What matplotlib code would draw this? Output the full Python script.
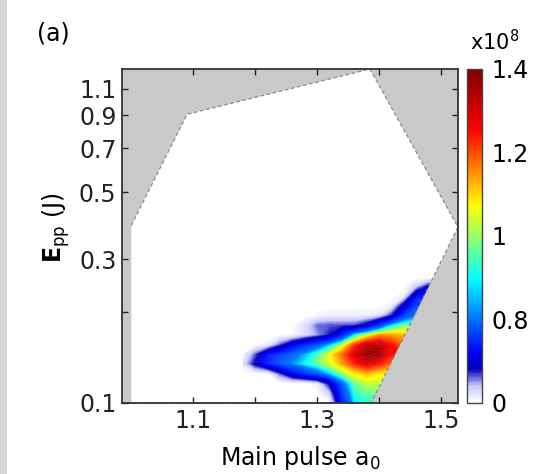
import numpy as np
import matplotlib
matplotlib.use("Agg")
import matplotlib.pyplot as plt
from matplotlib.colors import LinearSegmentedColormap, FuncNorm
from matplotlib.cm import ScalarMappable
from matplotlib.patches import Polygon, Rectangle
from matplotlib.ticker import FixedLocator, FixedFormatter, NullLocator

plt.rcParams['font.family'] = ['DejaVu Sans']

# ---------------- data ----------------
# allowed-region boundary (main pulse a0, E_pp in J)
boundary_a0 = [1.0, 1.0, 1.09, 1.385, 1.527, 1.387]
boundary_epp = [0.1, 0.388, 0.906, 1.28, 0.383, 0.1]

# grid nodes of the yield map
a0_grid = [1.18, 1.20, 1.22, 1.24, 1.26, 1.28, 1.30, 1.32, 1.34,
           1.36, 1.38, 1.40, 1.42, 1.44, 1.46, 1.48, 1.50]
epp_grid = [0.100, 0.108, 0.116, 0.125, 0.135, 0.145, 0.156,
            0.168, 0.181, 0.195, 0.210, 0.226, 0.243, 0.260]

# yield (x10^8), one row per E_pp value (bottom to top)
yield_rows = [
    [0, 0, 0, 0, 0, 0, 0, 0, 0.55, 0.88, 0.92, 0.92, 0.92, 0.92, 0.92, 0.92, 0.92],
    [0, 0, 0, 0, 0, 0, 0, 0.15, 0.65, 0.93, 0.97, 0.97, 0.97, 0.97, 0.97, 0.97, 0.97],
    [0, 0, 0, 0, 0, 0, 0.05, 0.35, 0.75, 0.97, 1.03, 1.03, 1.03, 1.03, 1.03, 1.03, 1.03],
    [0, 0, 0, 0.25, 0.48, 0.62, 0.74, 0.86, 1.00, 1.08, 1.12, 1.08, 1.08, 1.08, 1.08, 1.08, 1.08],
    [0.08, 0.35, 0.58, 0.72, 0.82, 0.90, 0.97, 1.05, 1.14, 1.24, 1.30, 1.25, 1.18, 1.18, 1.18, 1.18, 1.18],
    [0.02, 0.25, 0.52, 0.65, 0.75, 0.84, 0.95, 1.07, 1.18, 1.30, 1.38, 1.37, 1.25, 1.25, 1.25, 1.25, 1.25],
    [0, 0, 0.05, 0.25, 0.45, 0.60, 0.72, 0.85, 1.03, 1.22, 1.32, 1.33, 1.25, 1.18, 1.18, 1.18, 1.18],
    [0, 0, 0, 0, 0.02, 0.10, 0.20, 0.32, 0.58, 0.90, 1.05, 1.15, 1.15, 1.12, 1.12, 1.12, 1.12],
    [0, 0, 0, 0, 0, 0.10, 0.24, 0.26, 0.26, 0.27, 0.38, 0.65, 0.88, 0.98, 0.98, 0.98, 0.98],
    [0, 0, 0, 0, 0, 0, 0.03, 0.05, 0.05, 0.05, 0.05, 0.08, 0.30, 0.65, 0.80, 0.80, 0.80],
    [0, 0, 0, 0, 0, 0, 0, 0, 0, 0, 0, 0, 0.05, 0.40, 0.65, 0.65, 0.65],
    [0, 0, 0, 0, 0, 0, 0, 0, 0, 0, 0, 0, 0, 0.05, 0.50, 0.55, 0.55],
    [0, 0, 0, 0, 0, 0, 0, 0, 0, 0, 0, 0, 0, 0, 0.15, 0.35, 0.35],
    [0, 0, 0, 0, 0, 0, 0, 0, 0, 0, 0, 0, 0, 0, 0, 0, 0],
]

x_ticks = [1.1, 1.2, 1.3, 1.4, 1.5]
x_ticklabels = ['1.1', '', '1.3', '', '1.5']
y_ticks = [0.1, 0.2, 0.3, 0.5, 0.7, 0.9, 1.1]
y_ticklabels = ['0.1', '', '0.3', '0.5', '0.7', '0.9', '1.1']
cb_ticks = [0, 0.8, 1.0, 1.2, 1.4]
cb_ticklabels = ['0', '0.8', '1', '1.2', '1.4']

# ---------------- colormap / norm ----------------
cmap = LinearSegmentedColormap.from_list('wjet', [
    (0.00, (1.0, 1.0, 1.0)),
    (0.05, (0.78, 0.78, 1.0)),
    (0.10, (0.0, 0.0, 0.72)),
    (0.15, (0.0, 0.0, 1.0)),
    (0.37, (0.0, 1.0, 1.0)),
    (0.48, (0.5, 1.0, 0.5)),
    (0.59, (1.0, 1.0, 0.0)),
    (0.82, (1.0, 0.0, 0.0)),
    (1.00, (0.5, 0.0, 0.0)),
])

def fwd(v):
    return np.interp(v, [0, 0.8, 1.4], [0, 0.25, 1.0])

def inv(f):
    return np.interp(f, [0, 0.25, 1.0], [0, 0.8, 1.4])

norm = FuncNorm((fwd, inv), vmin=0, vmax=1.4)

# ---------------- figure ----------------
W, H = 535, 474
fig = plt.figure(figsize=(W / 100, H / 100), dpi=100)
fig.patches.append(Rectangle((0, 0), 7 / W, 1, transform=fig.transFigure,
                             facecolor='#d6d6d6', edgecolor='none'))

ax = fig.add_axes([122 / W, 71 / H, 336 / W, 334 / H])
cax = fig.add_axes([467 / W, 71 / H, 15 / W, 334 / H])

ax.set_facecolor('#c9c9c9')
ax.set_yscale('log')
ax.set_xlim(0.985, 1.527)
ax.set_ylim(0.1, 1.28)

poly_xy = np.column_stack([boundary_a0, boundary_epp])
ax.add_patch(Polygon(poly_xy, closed=True, facecolor='white', edgecolor='none', zorder=1))
clip_patch = Polygon(poly_xy, closed=True, transform=ax.transData)

X, Y = np.meshgrid(a0_grid, epp_grid)
Z = np.array(yield_rows)
levels = np.linspace(0.02, 1.4, 90)
cs = ax.contourf(X, Y, Z, levels=levels, cmap=cmap, norm=norm, zorder=2, antialiased=True)
cs.set_edgecolor('face')
cs.set_linewidth(0.3)
cs.set_clip_path(clip_patch)

# dashed boundary line (open along the bottom axis)
bx = boundary_a0[1:] + boundary_a0[:1]
by = boundary_epp[1:] + boundary_epp[:1]
ax.plot(bx, by, ls=(0, (3, 2)), color='#8a8a8a', lw=0.9, zorder=3, clip_on=False)

ax.xaxis.set_major_locator(FixedLocator(x_ticks))
ax.xaxis.set_major_formatter(FixedFormatter(x_ticklabels))
ax.xaxis.set_minor_locator(NullLocator())
ax.yaxis.set_major_locator(FixedLocator(y_ticks))
ax.yaxis.set_major_formatter(FixedFormatter(y_ticklabels))
ax.yaxis.set_minor_locator(NullLocator())
ax.tick_params(which='both', direction='in', length=4, width=1, top=True, right=True,
               labelsize=17, pad=4, colors='#222222')
for s in ax.spines.values():
    s.set_color('#333333')
    s.set_linewidth(1.3)
    s.set_zorder(5)

sm = ScalarMappable(norm=norm, cmap=cmap)
cb = fig.colorbar(sm, cax=cax)
cb.set_ticks(cb_ticks)
cb.set_ticklabels(cb_ticklabels)
cb.ax.minorticks_off()
cb.ax.tick_params(length=0, labelsize=17, pad=7)
cb.outline.set_edgecolor('#444444')
cb.outline.set_linewidth(1.0)

fig.text(470 / W, 1 - 50 / H, r'x10$^8$', fontsize=15, ha='left', va='baseline')
fig.text(37 / W, 1 - 33 / H, '(a)', fontsize=17, ha='left', va='center')
fig.text(300 / W, 1 - 458 / H, r'Main pulse a$_0$', fontsize=17, ha='center', va='center')
fig.text(56 / W, 1 - 228 / H, r'$\mathbf{E}_{\rm pp}$ (J)', fontsize=17, ha='center',
         va='center', rotation=90)

fig.savefig('out.png', dpi=100)
